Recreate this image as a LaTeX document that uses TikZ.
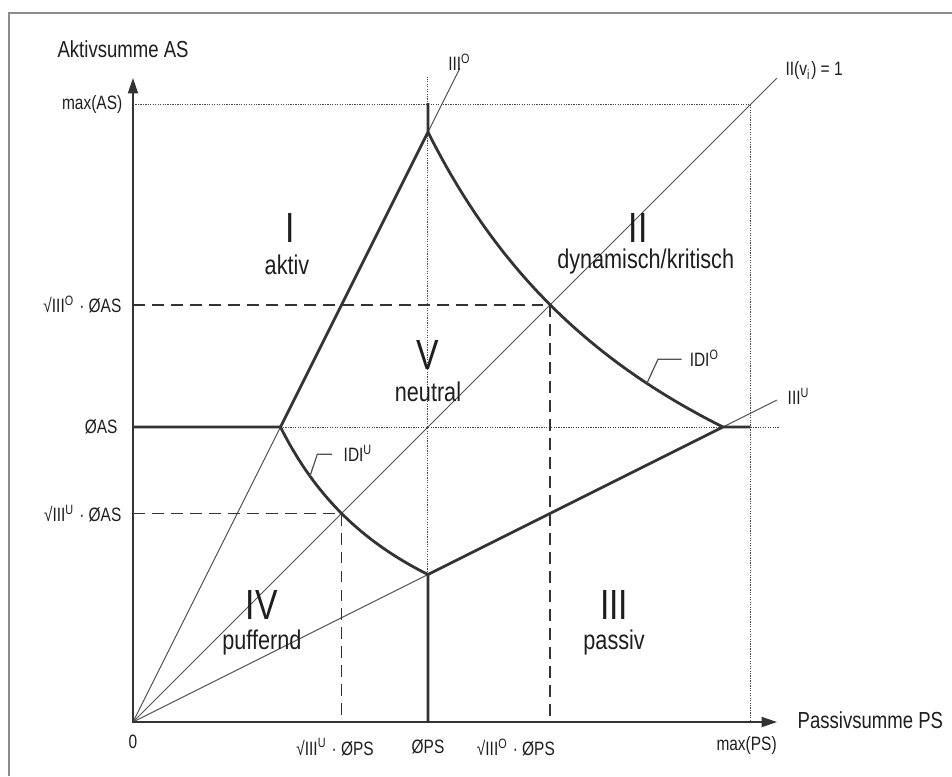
\documentclass[tikz,border=0pt]{standalone}
\usepackage{fontspec}
\setmainfont{Liberation Sans}[FakeStretch=0.8]
\usetikzlibrary{arrows.meta, calc, positioning}

\definecolor{linecol}{HTML}{333333}
\definecolor{textcol}{HTML}{1E1E1E}
\definecolor{framecol}{HTML}{8C8C8C}

\tikzset{
  frame/.style={draw=framecol, line width=0.35pt},
  axis/.style={draw=linecol, line width=0.45pt,
    {Triangle[length=4.4pt,width=2.9pt]}-{Triangle[length=4.4pt,width=2.9pt]}},
  border/.style={draw=linecol, line width=0.8pt, line join=round},
  ray/.style={draw=linecol!85, line width=0.28pt},
  guide/.style={draw=linecol!90, line width=0.28pt, dash pattern=on 0.35pt off 0.35pt},
  help/.style={draw=linecol, line width=0.45pt, dash pattern=on 3.4pt off 2pt},
  axistitle/.style={text=textcol, font=\fontsize{6.6}{8}\selectfont, inner sep=0pt},
  ticklabel/.style={text=textcol, font=\fontsize{5.5}{6.6}\selectfont, inner sep=0pt},
  region/.style={text=textcol, font=\fontsize{7.7}{9}\selectfont, inner sep=0pt},
  numeral/.style={text=textcol, font=\fontsize{12}{14}\selectfont, inner sep=0pt},
}

\begin{document}
\begin{tikzpicture}[x=2.95cm, y=2.95cm]
\useasboundingbox (-0.4508,-0.1831) rectangle (2.7763,2.4475);
\draw[frame] (-0.4203,-0.1831) |- (2.7763,2.4034);

% corner points of the five fields
\coordinate (O) at (0,0);
\coordinate (L) at (0.5,1);
\coordinate (T) at (1,2);
\coordinate (B) at (1,0.5);
\coordinate (R) at (2,1);
\coordinate (Mx) at (2.093,0);
\coordinate (My) at (0,2.093);
\coordinate (M) at (2.093,2.093);

% rays from the origin
\coordinate (rayO) at (1.108,2.216);
\coordinate (rayU) at (2.183,1.0915);
\coordinate (rayD) at (2.183,2.183);
\draw[ray] (O) -- (rayO);
\draw[ray] (O) -- (rayU);
\draw[ray] (O) -- (rayD);

% dotted guides
\draw[guide] (My) -- (M) -- (Mx);
\draw[guide] (L) -- (2.19,1);
\draw[guide] (B) -- (1,2.186);

% dashed helper lines
\draw[help] (0,1.4142) -| (1.4142,0);
\draw[help] (0,0.7071) -| (0.7071,0);

% field borders
\draw[border] (0,1) -- (L) -- (T) -- (1,2.098);
\draw[border] (1,0) -- (B) -- (R) -- (2.093,1);
\draw[border] plot[domain=0.5:1, samples=50] (\x,{0.5/\x});
\draw[border] plot[domain=1:2, samples=80] (\x,{2/\x});

% leaders of the curve labels
\coordinate (idiu) at (0.6,0.8333);
\coordinate (idio) at (1.742,1.1481);
\draw[ray, line width=0.35pt] (idiu) -- (0.625,0.908) -- (0.675,0.908);
\draw[ray, line width=0.35pt] (idio) -- (1.78,1.23) -- (1.86,1.23);

% axes
\draw[axis] (0,2.183) -- (O) -- (2.183,0);

% labels
\node[axistitle, anchor=base west] (ytitle) at (-0.258,2.254) {Aktivsumme AS};
\node[axistitle, anchor=base west] (xtitle) at (2.251,-0.022) {Passivsumme PS};

\node[ticklabel, anchor=east] (tmaxas) at (-0.034,2.093) {max(AS)};
\node[ticklabel, anchor=east] (tsqo) at (-0.037,1.4142) {√III\textsuperscript{O} · ØAS};
\node[ticklabel, anchor=east] (tas) at (-0.05,1) {ØAS};
\node[ticklabel, anchor=east] (tsqu) at (-0.037,0.7071) {√III\textsuperscript{U} · ØAS};

\node[ticklabel] (tnull) at (0,-0.068) {0};
\node[ticklabel] (tpsu) at (0.685,-0.085) {√III\textsuperscript{U} · ØPS};
\node[ticklabel] (tps) at (1,-0.085) {ØPS};
\node[ticklabel] (tpso) at (1.298,-0.085) {√III\textsuperscript{O} · ØPS};
\node[ticklabel] (tmaxps) at (2.08,-0.078) {max(PS)};

\node[ticklabel] (lo) at (1.108,2.237) {III\textsuperscript{O}};
\node[ticklabel, anchor=west] (lone) at (2.210,2.207) {II(v\textsubscript{i}) = 1};
\node[ticklabel, anchor=west] (lu) at (2.217,1.105) {III\textsuperscript{U}};
\node[ticklabel, anchor=west] (lidiu) at (0.712,0.912) {IDI\textsuperscript{U}};
\node[ticklabel, anchor=west] (lidio) at (1.885,1.234) {IDI\textsuperscript{O}};

% the five fields
\node[numeral] (nI) at (0.532,1.675) {I};
\node[region] (aI) at (0.522,1.549) {aktiv};
\node[numeral] (nII) at (1.713,1.675) {II};
\node[region] (aII) at (1.738,1.560) {dynamisch/kritisch};
\node[numeral] (nV) at (1.0,1.244) {V};
\node[region] (aV) at (1.0,1.119) {neutral};
\node[numeral] (nIV) at (0.437,0.397) {IV};
\node[region] (aIV) at (0.437,0.271) {puffernd};
\node[numeral] (nIII) at (1.631,0.397) {III};
\node[region] (aIII) at (1.631,0.271) {passiv};
\end{tikzpicture}
\end{document}
